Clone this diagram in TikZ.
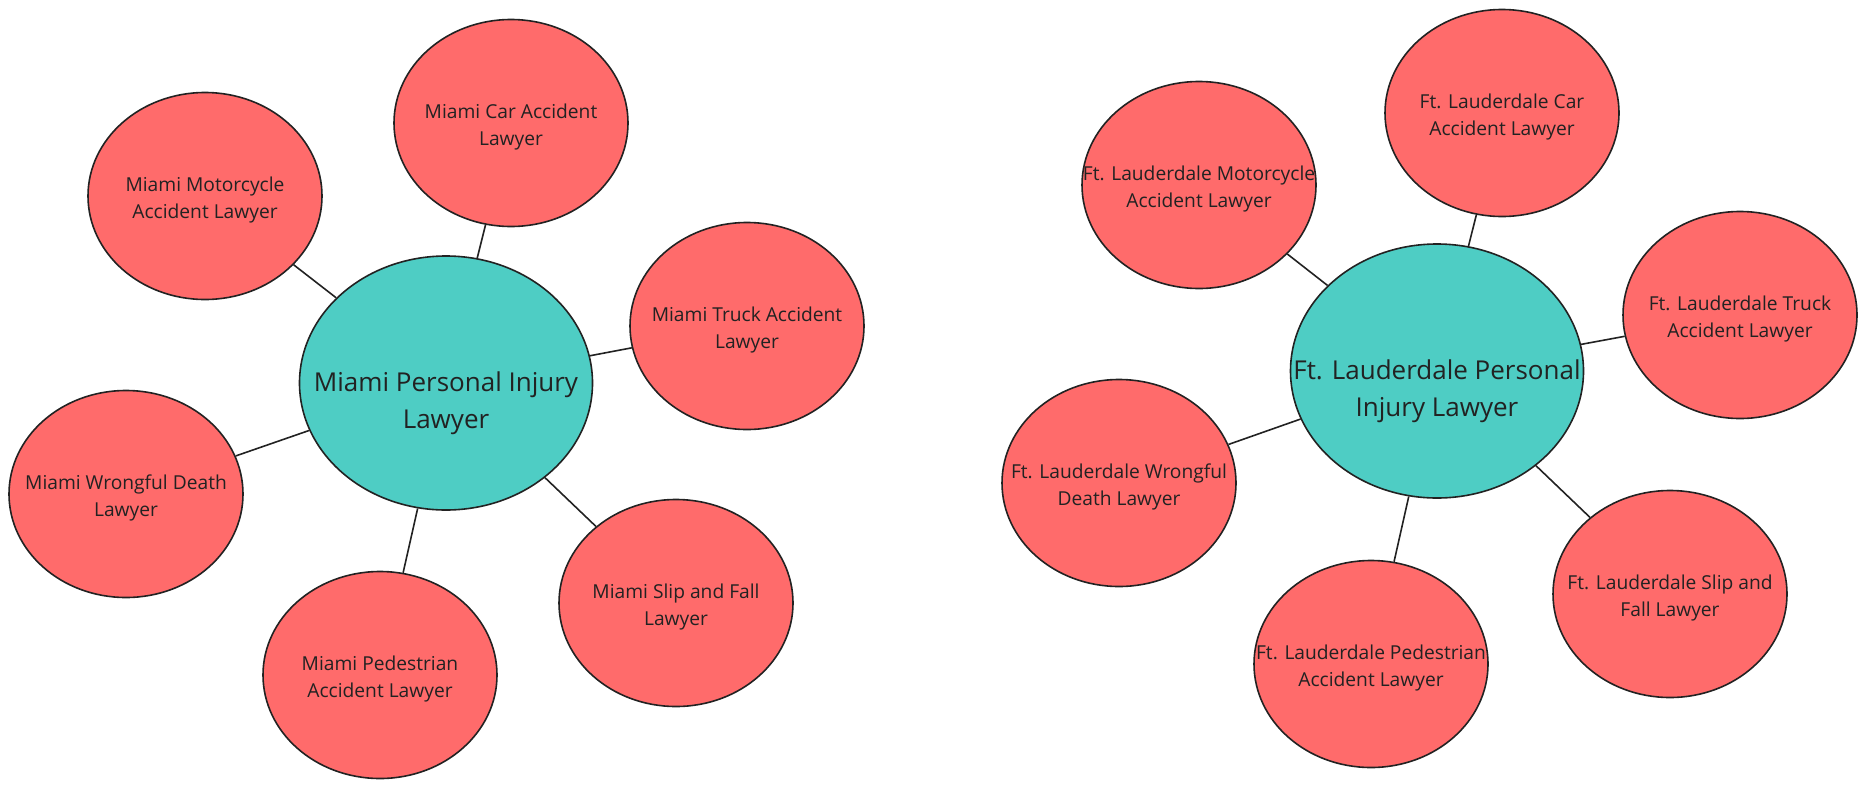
\documentclass[tikz,border=0pt]{standalone}
\usepackage{fontspec}
\setmainfont{Open Sans}
\usepackage{xcolor}
\usetikzlibrary{shapes.geometric}
\definecolor{hubteal}{HTML}{4ECDC4}
\definecolor{leafred}{HTML}{FF6B6B}
\definecolor{inkgray}{HTML}{222222}

\begin{document}
\begin{tikzpicture}[x=1pt,y=-1pt,line width=1.6pt]
\tikzstyle{leaf} = [ellipse, draw=inkgray, fill=leafred, text=inkgray, minimum width=234pt, minimum height=207pt, inner xsep=-45pt, inner ysep=0pt, text height=50pt, text depth=6pt, align=center, font=\fontsize{19.2}{27}\selectfont]
\tikzstyle{hub} = [ellipse, draw=inkgray, fill=hubteal, text=inkgray, minimum width=293pt, minimum height=254pt, inner xsep=-60pt, inner ysep=0pt, text height=96pt, text depth=6pt, align=center, font=\fontsize{26}{37}\selectfont]
\useasboundingbox (0,0) rectangle (1867,788);
% Miami
\node (m) [hub] at (446,383) {Miami Personal Injury\\Lawyer};
\node (m1) [leaf] at (205,196) {Miami Motorcycle\\Accident Lawyer};
\node (m2) [leaf] at (511,123) {Miami Car Accident\\Lawyer};
\node (m3) [leaf] at (747,326) {Miami Truck Accident\\Lawyer};
\node (m4) [leaf] at (126,494) {Miami Wrongful Death\\Lawyer};
\node (m5) [leaf] at (380,675) {Miami Pedestrian\\Accident Lawyer};
\node (m6) [leaf] at (676,603) {Miami Slip and Fall\\Lawyer};
% Ft. Lauderdale
\node (f) [hub] at (1437,371) {Ft. Lauderdale Personal\\Injury Lawyer};
\node (f1) [leaf] at (1199,185) {Ft. Lauderdale Motorcycle\\Accident Lawyer};
\node (f2) [leaf] at (1502,113) {Ft. Lauderdale Car\\Accident Lawyer};
\node (f3) [leaf] at (1740,315) {Ft. Lauderdale Truck\\Accident Lawyer};
\node (f4) [leaf] at (1119,483) {Ft. Lauderdale Wrongful\\Death Lawyer};
\node (f5) [leaf] at (1371,664) {Ft. Lauderdale Pedestrian\\Accident Lawyer};
\node (f6) [leaf] at (1670,594) {Ft. Lauderdale Slip and\\Fall Lawyer};
\foreach \from/\to in {m/m1, m/m2, m/m3, m/m4, m/m5, m/m6, f/f1, f/f2, f/f3, f/f4, f/f5, f/f6}
\draw [inkgray] (\from) -- (\to);
\end{tikzpicture}
\end{document}
